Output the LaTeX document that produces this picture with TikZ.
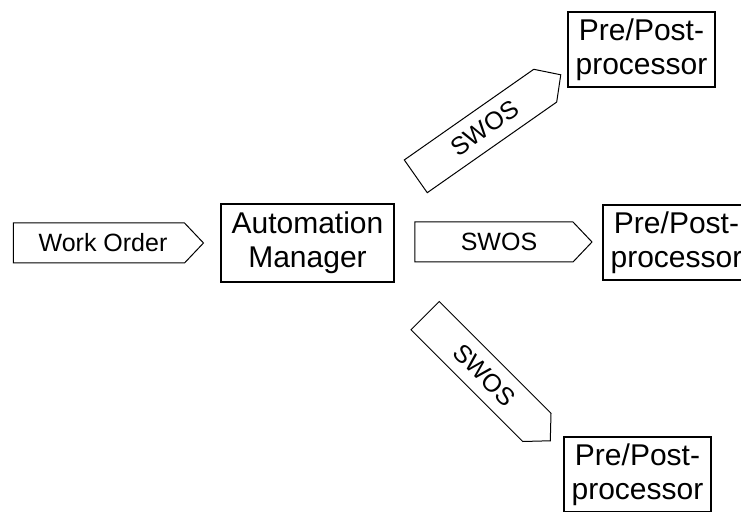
\documentclass[tikz,border=0pt]{standalone}
\usepackage{fontspec}
\setmainfont{Liberation Sans}
\usetikzlibrary{shapes.symbols}

\tikzset{
  procbox/.style={draw, line width=1pt, minimum width=73.5pt, minimum height=37.5pt,
    inner sep=0pt, align=center, font=\fontsize{15}{17}\selectfont},
  flowsig/.style={draw, line width=0.5pt, shape=signal, signal to=east,
    signal pointer angle=93, minimum width=88.5pt, minimum height=20pt,
    inner sep=0pt, font=\fontsize{12.5}{14}\selectfont}
}

\begin{document}
\begin{tikzpicture}[x=0.5pt,y=-0.5pt]
\useasboundingbox (0,0) rectangle (741,512);

% Work order goes in to the manager
\node[flowsig, minimum width=95pt] (order) at (99,243) {\hspace*{4pt}Work Order};
\node[procbox, minimum width=86.5pt, minimum height=39pt] (manager) at (307.5,243) {Automation\\Manager};

% Pre/Post-processors
\node[procbox] (ppTop) at (641.5,49.5) {Pre/Post-\\processor};
\node[procbox] (ppMid) at (676.5,242.5) {Pre/Post-\\processor};
\node[procbox] (ppBot) at (637.5,474.5) {Pre/Post-\\processor};

% SWOS sent out to each of them
\node[flowsig, rotate=35] (swosTop) at (480.5,131) {\hspace*{5pt}SWOS};
\node[flowsig] (swosMid) at (494,242) {\hspace*{5pt}SWOS};
\node[flowsig, rotate=-45] (swosBot) at (481,371.5) {\hspace*{5pt}SWOS};
\end{tikzpicture}
\end{document}
